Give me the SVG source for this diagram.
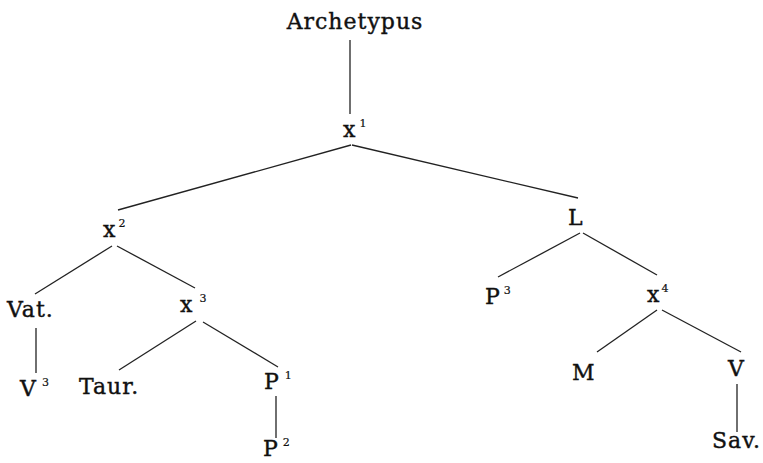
<svg xmlns="http://www.w3.org/2000/svg" width="763" height="463" viewBox="0 0 763 463">
<style>
text{font-family:"DejaVu Serif","Liberation Serif",serif;font-size:22px;letter-spacing:1px;fill:#111;stroke:#111;stroke-width:0.4}
.s{font-size:11px;stroke-width:0.2;letter-spacing:0}
.e line{stroke:#222;stroke-width:1.3;fill:none}
</style>
<rect width="763" height="463" fill="#fff"/>
<g class="e" id="connectors">
<line x1="350" y1="40" x2="350" y2="114"/>
<line x1="351" y1="145" x2="118" y2="210"/>
<line x1="352" y1="145" x2="578" y2="198"/>
<line x1="112" y1="246" x2="35" y2="294"/>
<line x1="117" y1="246" x2="195" y2="288"/>
<line x1="36" y1="328" x2="36" y2="373"/>
<line x1="196" y1="321" x2="119" y2="370"/>
<line x1="203" y1="322" x2="278" y2="367"/>
<line x1="276" y1="396" x2="276" y2="438"/>
<line x1="580" y1="233" x2="498" y2="277"/>
<line x1="583" y1="233" x2="657" y2="275"/>
<line x1="657" y1="310" x2="597" y2="352"/>
<line x1="662" y1="310" x2="741" y2="352"/>
<line x1="737" y1="384" x2="737" y2="432"/>
</g>
<g id="archetypus"><text x="355" y="29" text-anchor="middle">Archetypus</text></g>
<g id="x1"><text x="343" y="137">x<tspan class="s" dx="3" dy="-10">1</tspan></text></g>
<g id="x2"><text x="103" y="237">x<tspan class="s" dx="2" dy="-10">2</tspan></text></g>
<g id="vat"><text x="7" y="317">Vat.</text></g>
<g id="v3"><text x="20" y="396">V<tspan class="s" dx="5" dy="-10">3</tspan></text></g>
<g id="x3"><text x="180" y="312">x<tspan class="s" dx="6" dy="-10">3</tspan></text></g>
<g id="taur"><text x="79" y="394">Taur.</text></g>
<g id="p1"><text x="264" y="389">P<tspan class="s" dx="5" dy="-10">1</tspan></text></g>
<g id="p2"><text x="263" y="456">P<tspan class="s" dx="4" dy="-10">2</tspan></text></g>
<g id="l"><text x="568" y="225">L</text></g>
<g id="p3"><text x="485" y="304">P<tspan class="s" dx="3" dy="-10">3</tspan></text></g>
<g id="x4"><text x="647" y="302">x<tspan class="s" dx="1" dy="-10">4</tspan></text></g>
<g id="m"><text x="572" y="380">M</text></g>
<g id="v"><text x="728" y="376">V</text></g>
<g id="sav"><text x="712" y="448">Sav.</text></g>
</svg>
